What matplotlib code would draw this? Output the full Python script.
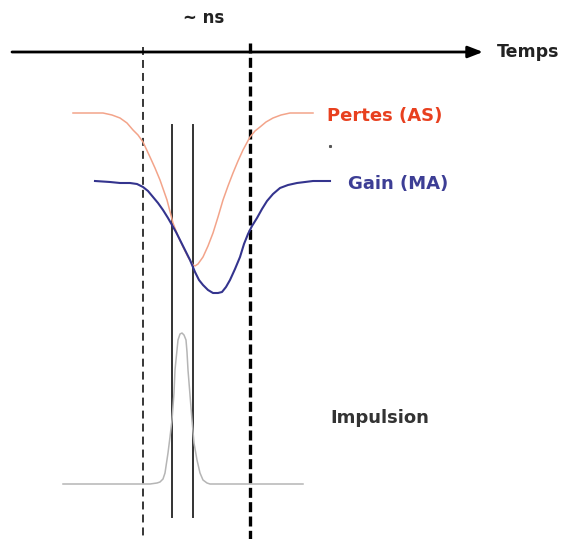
import matplotlib
matplotlib.use("Agg")
import matplotlib.pyplot as plt

# Pixel-space readings from the reference (x right, y down)
pertes_x = [73, 90, 103, 112, 120, 127, 133, 138, 143, 150, 155, 160, 167, 173, 178, 183, 188, 193, 195,
            198, 203, 208, 213, 218, 223, 228, 233, 238, 243, 250, 255, 260, 266, 273, 281, 290, 300, 313]
pertes_y = [113, 113, 113, 115, 118, 123, 130, 135, 142, 157, 168, 180, 200, 223, 236, 247, 257, 265, 266,
            264, 257, 246, 233, 217, 200, 186, 173, 161, 150, 137, 131, 127, 122, 118, 115, 113, 113, 113]

gain_x = [95, 110, 120, 130, 137, 143, 148, 153, 158, 163, 168, 172, 176, 180, 185, 190, 195, 199, 203,
          208, 213, 218, 222, 226, 230, 235, 240, 244, 248, 252, 257, 262, 267, 273, 280, 288, 297, 313, 330]
gain_y = [181, 182, 183, 183, 184, 187, 191, 197, 203, 210, 218, 225, 232, 240, 250, 260, 272, 280, 285,
          290, 293, 293, 292, 287, 280, 269, 257, 244, 234, 226, 218, 209, 201, 194, 188, 185, 183, 181, 181]

pulse_x = [63, 150, 157, 160, 163, 165, 168, 170, 172, 174, 175, 177, 178, 180, 182, 184, 186, 187, 188,
           190, 192, 194, 197, 200, 203, 207, 210, 303]
pulse_y = [484, 484, 483, 482, 479, 473, 453, 437, 420, 393, 370, 350, 340, 334, 333, 335, 340, 352, 370,
           395, 420, 443, 460, 473, 480, 483, 484, 484]

dashed_thin_x = 143
dashed_thick_x = 250
solid_lines_x = [172, 193]

labels = {"ns": "~ ns", "time": "Temps", "pertes": "Pertes (AS)",
          "gain": "Gain (MA)", "pulse": "Impulsion"}

fig = plt.figure(figsize=(5.66, 5.39), dpi=100)
ax = fig.add_axes([0, 0, 1, 1])
ax.set_xlim(0, 566)
ax.set_ylim(539, 0)
ax.axis("off")

font = "DejaVu Sans"
axis_y = 52

# dashed verticals
ax.plot([dashed_thin_x, dashed_thin_x], [47, 539], color="black", lw=1.1,
        dashes=(5.2, 3.3))
ax.plot([dashed_thick_x, dashed_thick_x], [43, 539], color="black", lw=2.4,
        dashes=(3.0, 1.3))

# time axis arrow
ax.annotate("", xy=(483, axis_y), xytext=(12, axis_y),
            arrowprops=dict(arrowstyle="-|>,head_length=0.9,head_width=0.35",
                            lw=2.0, color="black", shrinkA=0, shrinkB=0))
ax.text(497, axis_y, labels["time"], fontsize=12.5, fontweight="bold",
        family=font, va="center", ha="left", color="#222222")
ax.text(204, 18, labels["ns"], fontsize=12, fontweight="bold",
        family=font, va="center", ha="center", color="#222222")

# solid verticals
for sx in solid_lines_x:
    ax.plot([sx, sx], [125, 517], color="#333333", lw=1.4)

# curves
ax.plot(pertes_x, pertes_y, color="#f3a48a", lw=1.1)
ax.plot(gain_x, gain_y, color="#34348e", lw=1.5)
ax.plot(pulse_x, pulse_y, color="#b5b5b5", lw=1.1)

ax.text(327, 116, labels["pertes"], fontsize=13, fontweight="bold",
        family=font, va="center", ha="left", color="#e8401f")
ax.text(348, 184, labels["gain"], fontsize=13, fontweight="bold",
        family=font, va="center", ha="left", color="#3d3e95")
ax.text(330, 418, labels["pulse"], fontsize=13, fontweight="bold",
        family=font, va="center", ha="left", color="#333333")
ax.plot([330], [146], marker="s", ms=1.2, color="#555555")

fig.savefig("out.png", dpi=100)
